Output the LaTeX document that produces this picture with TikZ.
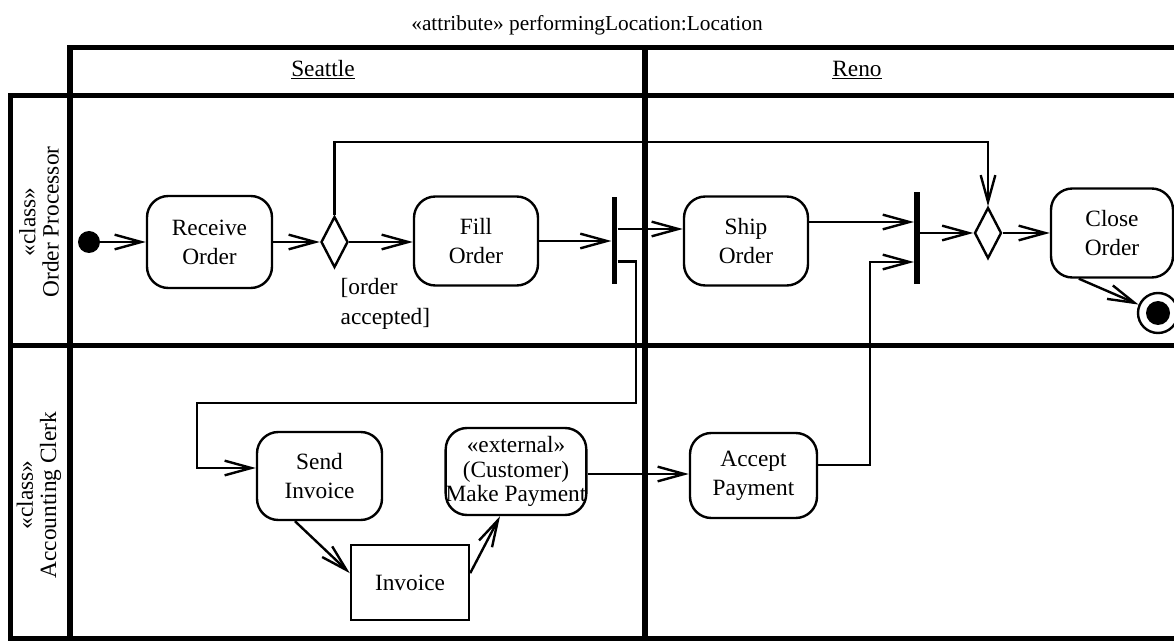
\documentclass[tikz,border=0pt]{standalone}
\usepackage{fontspec}
\setmainfont{Liberation Serif}
\usetikzlibrary{arrows.meta,shapes.geometric}
\begin{document}
\begin{tikzpicture}[x=0.75pt,y=-0.75pt,
  every node/.style={font=\fontsize{17.5pt}{21.75pt}\selectfont},
  act/.style={draw,line width=1.8pt,rounded corners=16pt,align=center,inner sep=0pt},
  objbox/.style={draw,line width=1.8pt,align=center,inner sep=0pt},
  decision/.style={draw,diamond,line width=1.8pt,inner sep=0pt,minimum width=20.25pt,minimum height=38.25pt},
  syncbar/.style={fill=black,draw=none,inner sep=0pt,minimum width=4.2pt},
  conn/.style={line width=1.8pt},
  arr/.style={line width=1.8pt,-{Straight Barb[length=20pt,width=11pt]}},
  lane/.style={line width=3.9pt},
  lanelabel/.style={rotate=90,align=center,font=\fontsize{17.5pt}{17.5pt}\selectfont}
]
\useasboundingbox (0,0) rectangle (1174,641);

% partitions
\draw[lane] (1180,47.8) -- (70,47.8) -- (70,645);
\draw[lane] (1180,95.5) -- (10.5,95.5) -- (10.5,645);
\draw[lane] (10.5,638.5) -- (1180,638.5);
\draw[lane] (10.5,345.5) -- (1180,345.5);
\draw[lane] (645,47.8) -- (645,645);

% headers
\node[font=\fontsize{16pt}{19pt}\selectfont] (title) at (587,25) {«attribute» performingLocation:Location};
\node (seattle) at (323,70) {\underline{Seattle}};
\node (reno) at (857,70) {\underline{Reno}};
\node[lanelabel] (lane1) at (39,222) {«class»\\Order Processor};
\node[lanelabel] (lane2) at (39,495) {«class»\\Accounting Clerk};

% nodes
\node[circle,fill=black,inner sep=0pt,minimum size=16.5pt] (init) at (89,242) {};
\node[act,minimum width=93.75pt,minimum height=69pt] (receive) at (209.5,242) {Receive\\Order};
\node[decision] (dec1) at (334.5,242) {};
\node[act,minimum width=93pt,minimum height=66.75pt] (fill) at (476,241) {Fill\\Order};
\node[anchor=west,align=left,font=\fontsize{17.5pt}{23pt}\selectfont] (guard) at (336,304) {[order\\accepted]};
\node[syncbar,minimum height=65.25pt] (fork1) at (614.5,241) {};
\node[act,minimum width=93pt,minimum height=66.75pt] (ship) at (746,241) {Ship\\Order};
\node[syncbar,minimum height=69pt] (join) at (917,238) {};
\node[decision] (dec2) at (988,233) {};
\node[act,minimum width=91.5pt,minimum height=66.75pt] (close) at (1112,233) {Close\\Order};
\node[circle,draw,line width=1.8pt,inner sep=0pt,minimum size=30pt] (final) at (1158,313) {};
\node[circle,fill=black,inner sep=0pt,minimum size=18pt] (finalin) at (final) {};

\node[act,minimum width=93.75pt,minimum height=66pt] (send) at (319.5,476) {Send\\Invoice};
\node[objbox,minimum width=88.5pt,minimum height=56.25pt] (invoice) at (410,582.5) {Invoice};
\node[act,minimum width=103.5pt,minimum height=65.25pt,font=\fontsize{17.5pt}{18.4pt}\selectfont] (make) at (516,471.5) {«external»\\(Customer)\\Make Payment};
\node[act,minimum width=95.25pt,minimum height=63.75pt] (accept) at (753.5,475.5) {Accept\\Payment};

% helper coordinates
\coordinate (yloop) at (0,142);
\coordinate (y229) at (0,229);
\coordinate (y261) at (0,261.5);
\coordinate (y222) at (0,222);
\coordinate (y465) at (0,465);
\coordinate (y474) at (0,474);
\coordinate (b1) at (636,403);
\coordinate (b2) at (197,403);
\coordinate (b3) at (197,468);
\coordinate (b4) at (870,262);

% connectors
\draw[arr] (init) -- (receive.west);
\draw[arr] (receive.east) -- (dec1.west);
\draw[arr] (dec1.east) -- (dec1.east -| fill.west);
\draw[arr] (dec1.north) -- (dec1.north |- yloop) -| (dec2.north);
\draw[arr] (fill.east) -- (fill.east -| fork1.west);
\draw[arr] (fork1.east |- y229) -- (ship.west |- y229);
\draw[arr] (fork1.east |- y261) -- (b1 |- y261) -- (b1) -- (b2) -- (b3) -- (send.west |- b3);
\draw[arr] (ship.east |- y222) -- (join.west |- y222);
\draw[arr] (accept.east |- y465) -| (b4) -- (b4 -| join.west);
\draw[arr] (dec2.west -| join.east) -- (dec2.west);
\draw[arr] (dec2.east) -- (close.west);
\draw[arr] (close.234) -- (final);
\draw[arr] ([xshift=-18.4pt]send.south) -- ([yshift=7pt]invoice.west);
\draw[arr] ([yshift=7pt]invoice.east) -- ([xshift=-12pt]make.south);
\draw[arr] (make.east |- y474) -- (accept.west |- y474);
\end{tikzpicture}
\end{document}
